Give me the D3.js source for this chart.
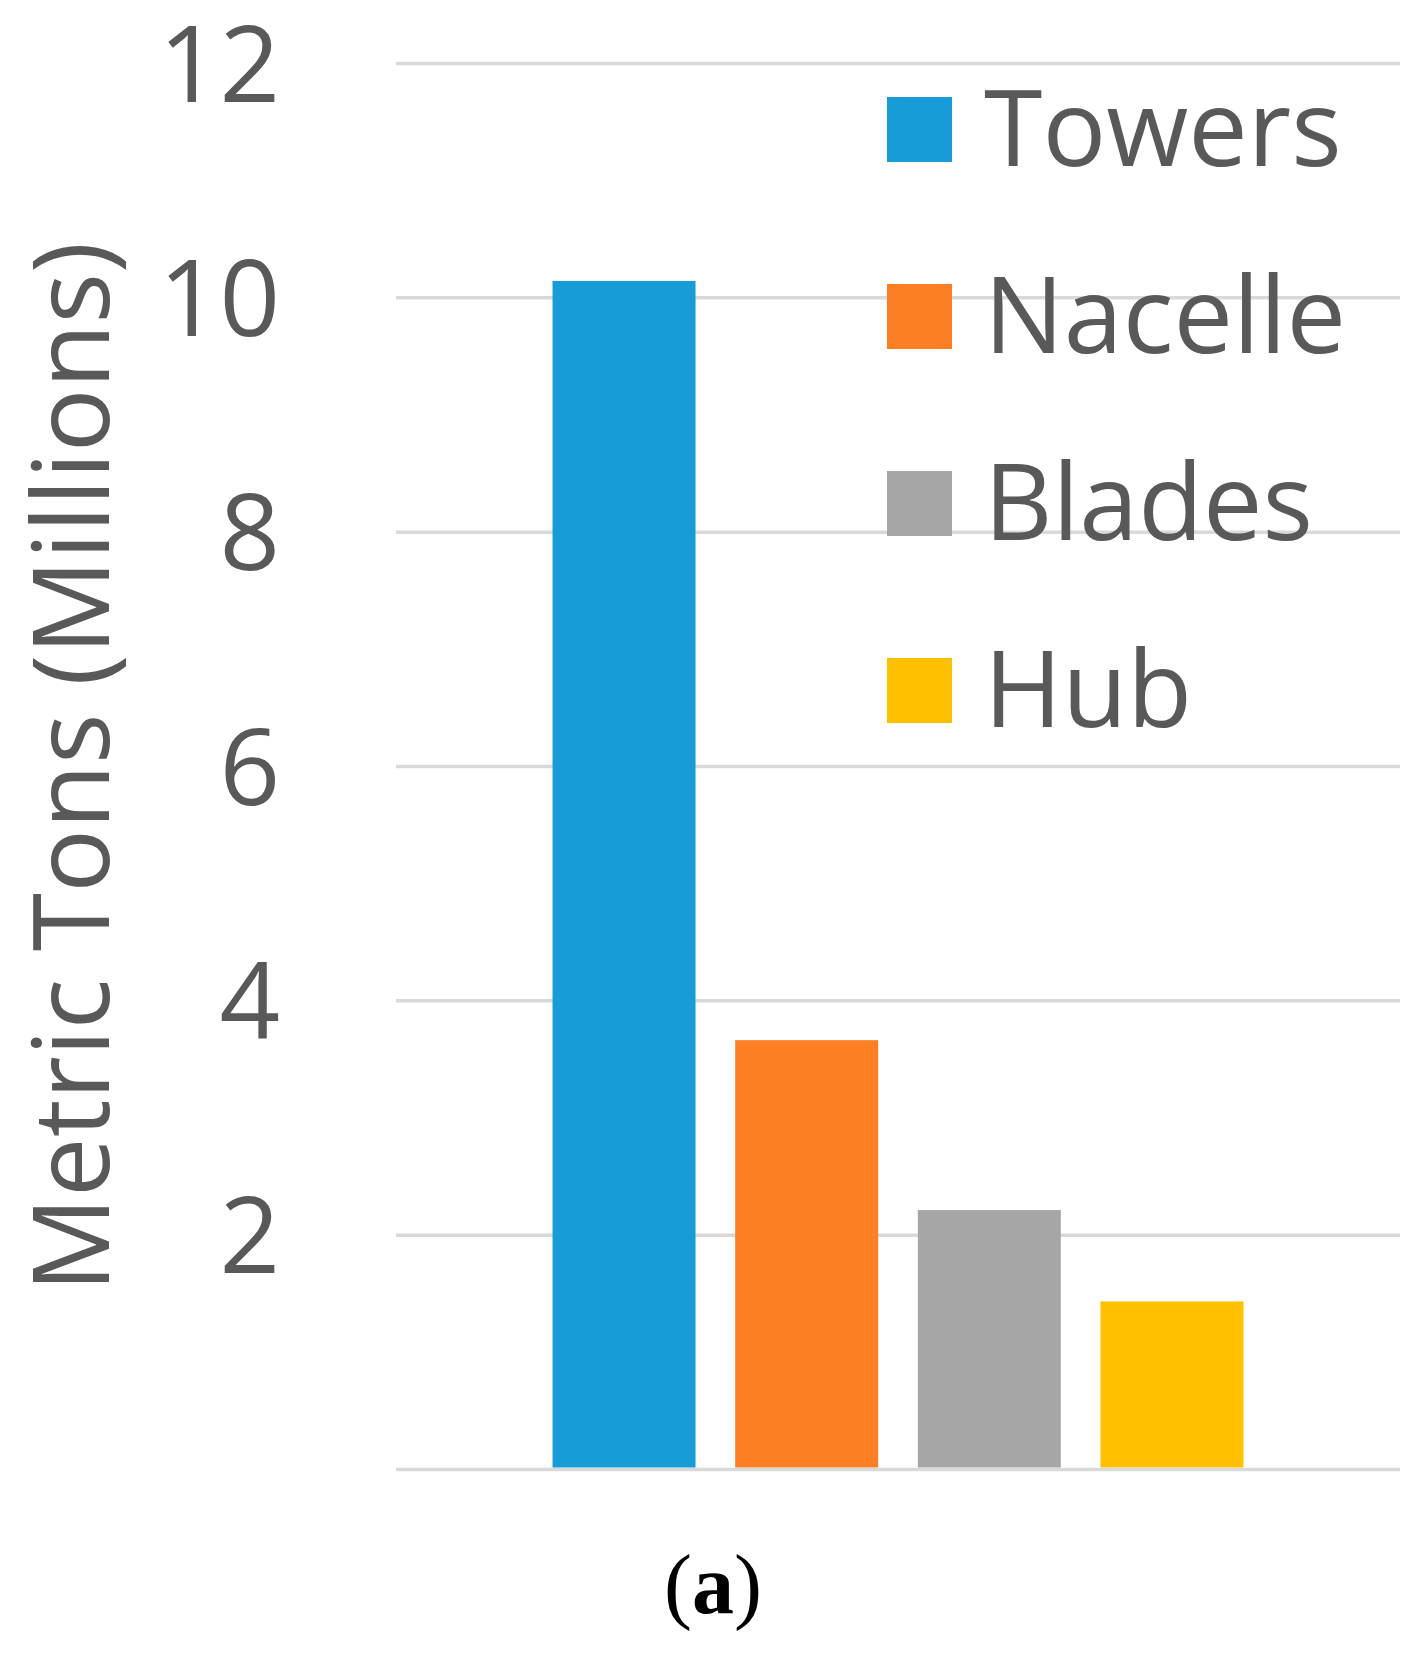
<!DOCTYPE html>
<html>
<head>
<meta charset="utf-8">
<script src="https://cdn.jsdelivr.net/npm/d3@7"></script>
<style>
  body { margin: 0; background: #fff; }
  svg { display: block; }
</style>
</head>
<body>
<div id="chart"></div>
<script>
// chart data
const categories = ["Towers", "Nacelle", "Blades", "Hub"];
const values = [10.14, 3.66, 2.21, 1.43];
const colors = ["#189cd8", "#fd7f24", "#a6a6a6", "#ffc000"];
const yTicks = [0, 2, 4, 6, 8, 10, 12];
const yTitle = "Metric Tons (Millions)";
const caption = "a";

const W = 1426, H = 1653;
const margin = {top: 63, right: 26, bottom: 184, left: 396},
      width = W - margin.left - margin.right,
      height = H - margin.top - margin.bottom;

const svg = d3.select("#chart")
  .append("svg")
  .attr("width", W)
  .attr("height", H);

const g = svg.append("g")
  .attr("transform", "translate(" + margin.left + "," + margin.top + ")");

// scales
let y = d3.scaleLinear()
  .domain([0, 12])
  .range([height, 0]);
let x = d3.scaleBand()
  .domain(categories)
  .range([0, width])
  .paddingInner(0.217)
  .paddingOuter(0.857);

// gridlines
g.append("g")
  .attr("class", "grid")
  .call(d3.axisLeft(y).tickValues(yTicks).tickSize(-width).tickFormat(""))
  .call(s => s.select(".domain").remove())
  .call(s => s.selectAll("line")
    .attr("stroke", "#d9d9d9")
    .attr("stroke-width", 3.5));

// y-axis labels
g.append("g")
  .attr("class", "y axis")
  .attr("transform", "translate(-116,0)")
  .call(d3.axisLeft(y).tickValues(yTicks.filter(d => d > 0)).tickSize(0).tickPadding(0))
  .call(s => s.select(".domain").remove())
  .call(s => s.selectAll("text")
    .attr("fill", "#595959")
    .attr("font-family", "'Open Sans', sans-serif")
    .attr("font-size", 106)
    .attr("dy", "0.36em"));

// bars
g.selectAll(".bar")
  .data(values)
  .enter().append("rect")
  .attr("class", "bar")
  .attr("x", (d, i) => x(categories[i]))
  .attr("y", d => y(d))
  .attr("width", x.bandwidth())
  .attr("height", d => y(0) - y(d) - 1.5)
  .attr("fill", (d, i) => colors[i]);

// y title
svg.append("text")
  .attr("transform", "translate(109,767) rotate(-90)")
  .attr("text-anchor", "middle")
  .attr("fill", "#595959")
  .attr("font-family", "'Open Sans', sans-serif")
  .attr("font-size", 106)
  .text(yTitle);

// legend
const legend = svg.append("g")
  .attr("transform", "translate(887,97)");
const item = legend.selectAll(".item")
  .data(categories)
  .enter().append("g")
  .attr("class", "item")
  .attr("transform", (d, i) => "translate(0," + (i * 187) + ")");
item.append("rect")
  .attr("width", 65)
  .attr("height", 65)
  .attr("fill", (d, i) => colors[i]);
item.append("text")
  .attr("x", 97)
  .attr("y", 69)
  .attr("fill", "#595959")
  .attr("font-family", "'Open Sans', sans-serif")
  .attr("font-size", 106)
  .text(d => d);

// caption
const cap = svg.append("text")
  .attr("x", 713)
  .attr("y", 1613)
  .attr("text-anchor", "middle")
  .attr("font-family", "'Liberation Serif', serif")
  .attr("font-weight", "bold")
  .attr("font-size", 84)
  .attr("fill", "#000");
cap.append("tspan").attr("font-weight", "normal").text("(");
cap.append("tspan").text(caption);
cap.append("tspan").attr("font-weight", "normal").text(")");
</script>
</body>
</html>
